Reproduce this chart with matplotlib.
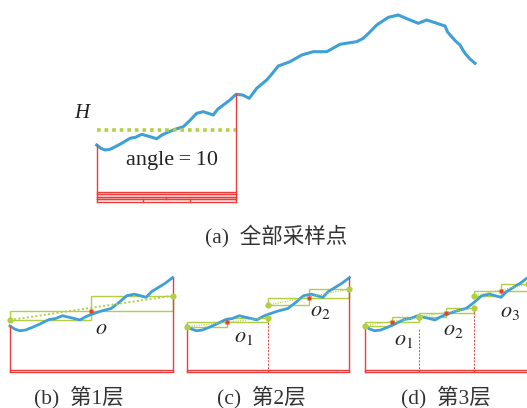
import matplotlib
matplotlib.use('Agg')
import matplotlib.pyplot as plt
from matplotlib.patches import Rectangle

plt.rcParams['mathtext.fontset'] = 'stix'
plt.rcParams['font.family'] = ['Liberation Serif', 'Noto Sans CJK SC']

# terrain profile: distance along the section and elevation
dist = [0, 4, 8.3, 13.3, 19, 25, 33.3, 39, 45, 53.3, 60, 65, 70, 78.3, 86.6, 93, 100, 106.6,
        116.6, 121, 126.6, 133, 139.3, 146, 152.6, 160, 170, 175, 181.6, 193.3, 205, 216.6,
        230, 243.3, 250, 260, 266.6, 272, 280, 291.6, 301.6, 311.6, 321.6, 330, 338.3, 348.3,
        351, 355, 359, 363.3, 366, 368.3, 373, 378.3]
elev = [56.7, 53.5, 51.7, 52.4, 55.2, 58.4, 63.4, 64.5, 67.4, 65, 63, 66.5, 69, 72.4, 75, 81, 88.4,
        90, 86.7, 92.5, 96.7, 101.5, 107.4, 106.7, 103.4, 113.4, 121.7, 127.5, 135.7, 140,
        146.7, 150, 150, 157.4, 158.5, 160, 163.4, 168.5, 176.7, 184.4, 186.7, 182.4, 178.4,
        181.7, 179, 175.7, 169.5, 165, 160.5, 156.7, 152, 148.4, 143, 138.4]
seg_end = 139.3        # end of the sampled section
h_level = 71.7         # mean height H
angle = 10

# stacked layer rows under the section (top, bottom, number of parts)
layer_rows = [(10, 7.7, 1), (7.7, 5, 1), (5, 2.7, 2), (2.7, 0, 3)]

# pivot points per layer: each segment is (distances, elevations)
layers = {
    1: [([0, 69.65, 139.3], [63.0, 72.7, 88.4])],
    2: [([0, 34.8, 69.65], [56.0, 60.6, 65.4]),
        ([69.65, 104.5, 139.3], [78.7, 85.7, 95.4])],
    3: [([0, 23.2, 46.4], [57.0, 60.6, 65.8]),
        ([46.4, 69.65, 92.9], [66.5, 70.0, 75.2]),
        ([92.9, 116.1, 139.3], [88.1, 93.3, 100.4])],
}
node_labels = {
    1: [('$o$', 78.5, 52.5)],
    2: [('$o_1$', 49, 44.5), ('$o_2$', 114.5, 71.5)],
    3: [('$o_1$', 33, 41), ('$o_2$', 76, 51.5), ('$o_3$', 124.5, 70.5)],
}
captions = ['(a)  全部采样点', '(b)  第1层', '(c)  第2层', '(d)  第3层']

blue = '#3fa0d8'
green = '#b2cf44'
red = '#ec3c3c'
W, H = 527, 408

fig = plt.figure(figsize=(W / 100, H / 100), dpi=100)

# (a) the whole profile
ax = fig.add_axes([0, 0, 1, 1])
ax.set_xlim(-96.7, W - 96.7)
ax.set_ylim(201.7 - H, 201.7)
ax.set_axis_off()
ax.plot(dist, elev, color=blue, lw=2.2, solid_joinstyle='round')
ax.plot([0, 0], [elev[0], 0], color=red, lw=1.0)
ax.plot([seg_end, seg_end], [elev[dist.index(seg_end)], 0], color=red, lw=1.0)
for top, bot, parts in layer_rows:
    ax.plot([0, seg_end], [top, top], color=red, lw=1.0)
    ax.plot([0, seg_end], [bot, bot], color=red, lw=1.0)
    for k in range(1, parts):
        xk = seg_end * k / parts
        ax.plot([xk, xk], [top, bot], color=red, lw=1.0)
ax.plot([0, seg_end], [h_level, h_level], color=green, lw=2.6, ls=(0, (1, 1.1)))
ax.text(-15, 88.7, 'H', fontsize=15, style='italic', ha='center', va='center', color='#222222')
ax.text(75, 41.7, 'angle\u2009=\u2009%d' % angle, fontsize=16,
        ha='center', va='center', color='#222222', family=['Liberation Serif', 'DejaVu Sans'])
fig.text(276 / W, 1 - 236 / H, captions[0], fontsize=15.5, ha='center', va='center',
         color='#333333')

# (b)-(d) layer decomposition of the section
sub_x = {1: 10, 2: 186.7, 3: 365}
cap_x = {1: 79, 2: 261, 3: 446}
px_w = 162.7
floor, top_elev = 8.5, 115.3
i_end = dist.index(seg_end)
for n, segs in layers.items():
    bx = fig.add_axes([sub_x[n] / W, (H - 372) / H, px_w / W, 102 / H])
    bx.set_xlim(0, seg_end)
    bx.set_ylim(floor, top_elev)
    bx.set_axis_off()
    bx.plot(dist[:i_end + 1], elev[:i_end + 1], color=blue, lw=2.0, clip_on=False,
            solid_joinstyle='round')
    bx.plot([0, 0], [elev[0], floor], color=red, lw=1.0, clip_on=False)
    bx.plot([seg_end, seg_end], [elev[i_end], floor], color=red, lw=1.0, clip_on=False)
    bx.add_patch(Rectangle((0, floor), seg_end, 2.6, fill=False, ec=red, lw=1.0, clip_on=False))
    for xs, ys in segs[1:]:
        bx.plot([xs[0], xs[0]], [floor, ys[0] - 12], color=red, lw=0.7, ls=(0, (2, 1.5)))
        bx.plot([xs[0], xs[0]], [floor, floor + 2.6], color=red, lw=1.0)
    for xs, ys in segs:
        for j in range(2):
            y0, y1 = sorted([ys[j], ys[j + 1]])
            bx.add_patch(Rectangle((xs[j], y0), xs[j + 1] - xs[j], y1 - y0, fill=False,
                                   ec=green, lw=1.0, clip_on=False))
        bx.plot([xs[0], xs[2]], [ys[0], ys[2]], color=green,
                lw=1.4 if n == 1 else 0.8, ls=(0, (1, 1.2)), clip_on=False)
        bx.plot([xs[0], xs[2]], [ys[0], ys[2]], 'o', color=green, ms=4.5, mec='none', clip_on=False)
        bx.plot(xs[1], ys[1], 's', color='#e8402a', ms=3.2, mec='none', clip_on=False)
    for txt, lx, ly in node_labels[n]:
        bx.text(lx, ly, txt, fontsize=16, ha='center', va='center', color='#222222')
    fig.text(cap_x[n] / W, 1 - 397 / H, captions[n], fontsize=15.5, ha='center', va='center',
             color='#333333')

fig.savefig('out.png', dpi=100)
